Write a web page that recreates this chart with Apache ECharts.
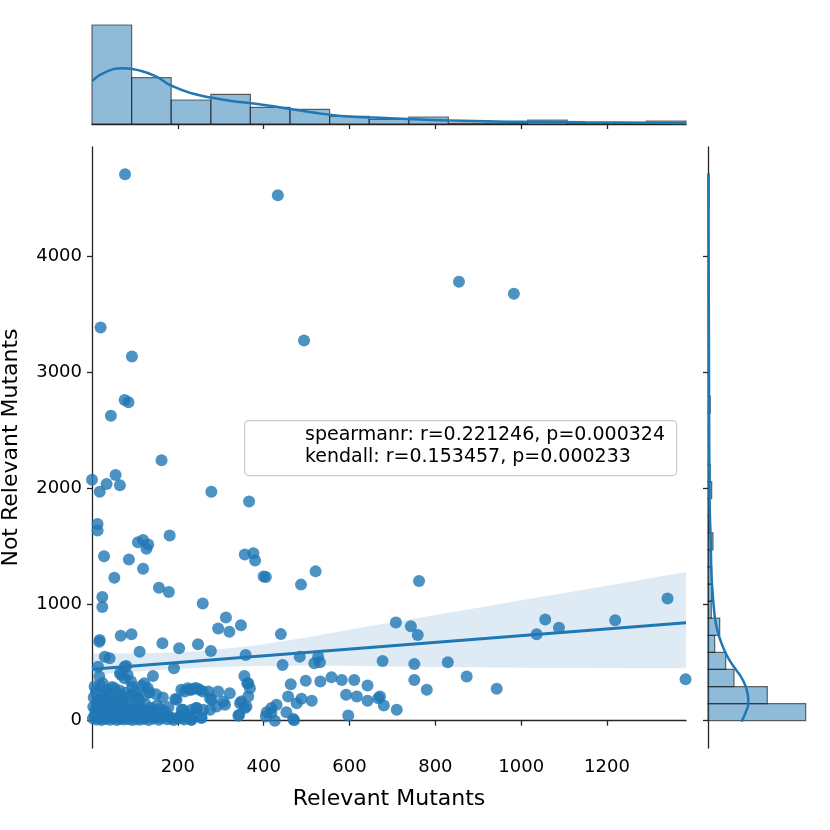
<!DOCTYPE html>
<html>
<head>
<meta charset="utf-8">
<script src="https://cdn.jsdelivr.net/npm/echarts@6/dist/echarts.min.js"></script>
<style>
  html, body { margin: 0; padding: 0; background: #fff; }
  #chart { width: 830px; height: 830px; }
</style>
</head>
<body>
<div id="chart"></div>
<script>
// scatter points [relevant, notRelevant]
const points = [
  [77,4702],[433,4522],[855,3777],[983,3674],[494,3272],[20,3383],[93,3135],[44,2624],[76,2760],[85,2740],
  [162,2241],[0,2073],[18,1970],[34,2036],[55,2115],[65,2027],[278,1970],[366,1887],[13,1693],[13,1636],
  [181,1593],[107,1536],[119,1556],[131,1516],[127,1479],[28,1416],[86,1388],[119,1308],[52,1231],[356,1430],
  [376,1442],[380,1379],[400,1240],[405,1236],[487,1171],[521,1285],[24,1065],[24,979],[156,1145],[179,1108],
  [258,1008],[312,888],[294,794],[320,765],[347,822],[18,694],[67,731],[92,743],[164,666],[111,594],
  [203,623],[247,657],[277,600],[440,745],[358,565],[484,551],[527,551],[518,494],[531,503],[677,514],
  [30,551],[41,537],[76,465],[65,408],[83,394],[191,451],[444,480],[355,385],[362,323],[142,385],
  [463,314],[498,343],[532,337],[558,374],[582,351],[611,351],[642,302],[592,223],[617,208],[642,171],
  [667,194],[457,208],[488,188],[512,171],[597,45],[405,37],[426,0],[471,3],[418,66],[343,51],
  [216,251],[232,266],[251,266],[271,251],[294,251],[321,237],[197,180],[209,94],[232,94],[255,23],
  [279,180],[310,137],[348,165],[364,208],[356,109],[185,23],[209,23],[232,9],
  [762,1202],[708,845],[743,813],[759,737],[751,488],[751,351],[780,266],[829,503],[873,380],[943,274],
  [1036,743],[1056,871],[1088,799],[1219,865],[1341,1051],[1383,357],[671,208],[680,131],[710,94],
  [17,679],[14,465],[80,471],[68,394],[76,365],[91,337],[122,323],[130,280],[17,380],[6,295],
  [25,323],[37,266],[52,280],[95,228],[107,200],[134,243],[149,228],[165,200],[68,185],[60,128],
  [37,143],[21,171],[208,266],[223,280],[239,280],[194,186],[212,94],[223,51],[243,109],[231,9],
  [228,266],[244,280],[258,251],[275,194],[306,165],[290,122],[275,94],[259,94],[244,109],[232,29],
  [255,29],[341,43],[360,122],[345,151],[407,72],[418,109],[430,137],[453,72],[469,14],[477,151],
  [364,323],[368,280],
  [2,20],[6,45],[10,10],[14,60],[18,25],[22,5],[26,40],[30,15],[34,70],[38,30],
  [42,8],[46,50],[50,20],[54,35],[58,5],[62,60],[66,18],[70,42],[74,10],[78,28],
  [82,55],[86,12],[90,36],[95,5],[100,48],[105,22],[110,8],[115,40],[120,15],[126,30],
  [132,5],[138,45],[144,18],[150,35],[156,8],[162,25],[168,50],[175,12],[182,30],[190,5],
  [198,20],[205,40],[215,10],
  [3,120],[8,90],[12,150],[17,105],[25,80],[29,135],[33,95],[40,115],[45,75],[48,160],
  [55,100],[60,128],[65,85],[70,145],[75,110],[80,70],[85,130],[92,95],[98,150],[104,80],
  [112,120],[118,90],[125,140],[130,75],[137,110],[145,90],[152,130],[160,100],[170,80],[178,115],
  [4,200],[9,250],[14,175],[19,300],[24,220],[28,180],[35,240],[42,205],[47,290],[53,170],
  [58,230],[64,260],[72,195],[78,240],[86,210],[94,290],[102,250],[110,175],[116,300],[124,225]
];

// regression fit and its confidence band
const fitLine = [[0, 442], [1384, 842]];
const bandX     = [0,   125, 250, 375, 500, 625, 750, 875, 1000, 1125, 1250, 1384];
const bandUpper = [578, 580, 598, 645, 715, 800, 878, 957, 1036, 1115, 1194, 1279];
const bandLower = [393, 430, 455, 470, 475, 470, 465, 460, 456,  453,  452,  451];

// top marginal histogram (x)
const topEdges  = [0, 92.3, 184.5, 276.8, 369, 461.3, 553.6, 645.8, 738.1, 830.3, 922.6, 1014.9, 1107.1, 1199.4, 1291.6, 1384];
const topCounts = [99, 46.3, 24, 29.7, 16.7, 14.7, 7.7, 4.5, 7, 1, 1, 4, 1, 1, 3];
const topKde = [[0,43],[30,51.7],[73,55.7],[115,53],[150,47.3],[185,38.3],[232,30.7],[279,26.3],[325,23],
  [372,20.7],[418,18],[465,14.7],[512,11.7],[558,9],[605,7.3],[652,6.5],[694,5.8],[832,3.5],[993,2.3],
  [1149,1.7],[1384,1.0]];

// right marginal histogram (y), 32 bins of 147
const rightBinWidth = 147;
const rightCounts = [97.7, 59.3, 26, 17.7, 6.7, 11.7, 3.3, 3.7, 3.7, 3.3, 5, 1, 1, 3.7, 2.2, 1.1,
  0, 1.1, 2.2, 0, 0, 1.1, 1.1, 1.1, 1.1, 1.1, 0, 0, 0, 0, 1.1, 1.1];
const rightKde = [[33.4,-9],[37.7,72],[40.4,157],[39.4,243],[34.4,357],[27.7,443],[21,528],[16,614],
  [11,728],[7.7,843],[6,957],[4.4,1128],[3.4,1271],[2.7,1556],[1.7,1842],[1.4,2128],[1.2,2413],
  [1,3000],[0.8,3600],[0.6,4200],[0.5,4705]];

const xTicks = [200, 400, 600, 800, 1000, 1200];
const yTicks = [0, 1000, 2000, 3000, 4000];
const statLines = ['spearmanr: r=0.221246, p=0.000324', 'kendall: r=0.153457, p=0.000233'];

const BLUE = '#1f77b4';
const FONT = '"DejaVu Sans", sans-serif';
const INK = '#262626';
const histFill = 'rgba(31,119,180,0.5)';
const histEdge = 'rgba(30,30,30,0.65)';

const topData = topCounts.map((c, i) => [topEdges[i], topEdges[i + 1], c]);
const rightData = rightCounts.map((c, i) => [i * rightBinWidth, (i + 1) * rightBinWidth, c]);

const axisLine = { show: true, lineStyle: { color: INK, width: 1.3 } };
const tickStyle = { show: true, length: 5, lineStyle: { color: INK, width: 1.3 } };
const plain = v => String(v);

const chart = echarts.init(document.getElementById('chart'));
chart.setOption({
  animation: false,
  backgroundColor: '#fff',
  grid: [
    { left: 92, top: 147, width: 594, height: 601, containLabel: false, outerBoundsMode: 'none' },
    { left: 92, top: 19, width: 594, height: 105, containLabel: false, outerBoundsMode: 'none' },
    { left: 708, top: 147, width: 102, height: 601, containLabel: false, outerBoundsMode: 'none' }
  ],
  xAxis: [
    {
      gridIndex: 0, type: 'value', min: 0, max: 1384,
      axisLine, splitLine: { show: false },
      axisTick: { ...tickStyle, customValues: xTicks },
      axisLabel: { customValues: xTicks, formatter: plain, fontSize: 18, fontFamily: FONT, color: '#000', margin: 10 },
      name: 'Relevant Mutants', nameLocation: 'middle', nameGap: 40,
      nameTextStyle: { fontSize: 22, fontFamily: FONT, color: '#000' }
    },
    {
      gridIndex: 1, type: 'value', min: 0, max: 1384,
      axisLine, splitLine: { show: false },
      axisTick: { ...tickStyle, customValues: xTicks },
      axisLabel: { show: false }
    },
    {
      gridIndex: 2, type: 'value', min: 0, max: 102, show: false
    }
  ],
  yAxis: [
    {
      gridIndex: 0, type: 'value', min: -235, max: 4937,
      axisLine, splitLine: { show: false },
      axisTick: { ...tickStyle, customValues: yTicks },
      axisLabel: { customValues: yTicks, formatter: plain, fontSize: 18, fontFamily: FONT, color: '#000', margin: 10 },
      name: 'Not Relevant Mutants', nameLocation: 'middle', nameGap: 70,
      nameTextStyle: { fontSize: 22, fontFamily: FONT, color: '#000' }
    },
    {
      gridIndex: 1, type: 'value', min: 0, max: 105, show: false
    },
    {
      gridIndex: 2, type: 'value', min: -235, max: 4937,
      axisLine, splitLine: { show: false },
      axisTick: { ...tickStyle, customValues: yTicks },
      axisLabel: { show: false }
    }
  ],
  graphic: [
    {
      type: 'rect', left: 244, top: 420, z: 100,
      shape: { width: 432, height: 55, r: 4 },
      style: { fill: 'rgba(255,255,255,0.8)', stroke: '#cccccc', lineWidth: 1.2 }
    },
    {
      type: 'text', left: 305, top: 426, z: 101,
      style: { text: statLines[0], font: '19px ' + FONT, fill: '#000' }
    },
    {
      type: 'text', left: 305, top: 448, z: 101,
      style: { text: statLines[1], font: '19px ' + FONT, fill: '#000' }
    }
  ],
  series: [
    {
      type: 'scatter', xAxisIndex: 0, yAxisIndex: 0,
      data: points, symbolSize: 12, z: 2,
      itemStyle: { color: BLUE, opacity: 0.8 }
    },
    {
      type: 'custom', xAxisIndex: 0, yAxisIndex: 0, z: 3, clip: true,
      data: [[bandX[0], bandLower[0]]],
      renderItem: (params, api) => {
        const up = bandX.map((x, i) => api.coord([x, bandUpper[i]]));
        const lo = bandX.map((x, i) => api.coord([x, bandLower[i]])).reverse();
        return {
          type: 'polygon',
          shape: { points: up.concat(lo) },
          style: { fill: 'rgba(31,119,180,0.15)' }
        };
      }
    },
    {
      type: 'line', xAxisIndex: 0, yAxisIndex: 0, z: 4,
      data: fitLine, symbol: 'none',
      lineStyle: { color: BLUE, width: 3 }
    },
    {
      type: 'custom', xAxisIndex: 1, yAxisIndex: 1, z: 2,
      data: topData, encode: { x: [0, 1], y: 2 },
      renderItem: (params, api) => {
        const p0 = api.coord([api.value(0), 0]);
        const p1 = api.coord([api.value(1), api.value(2)]);
        return {
          type: 'rect',
          shape: { x: p0[0], y: p1[1], width: p1[0] - p0[0], height: p0[1] - p1[1] },
          style: { fill: histFill, stroke: histEdge, lineWidth: 1.2 }
        };
      }
    },
    {
      type: 'line', xAxisIndex: 1, yAxisIndex: 1, z: 3,
      data: topKde, symbol: 'none', smooth: true,
      lineStyle: { color: BLUE, width: 2.5 }
    },
    {
      type: 'custom', xAxisIndex: 2, yAxisIndex: 2, z: 2,
      data: rightData, encode: { y: [0, 1], x: 2 },
      renderItem: (params, api) => {
        const p0 = api.coord([0, api.value(0)]);
        const p1 = api.coord([api.value(2), api.value(1)]);
        return {
          type: 'rect',
          shape: { x: p0[0], y: p1[1], width: p1[0] - p0[0], height: p0[1] - p1[1] },
          style: { fill: histFill, stroke: histEdge, lineWidth: 1.2 }
        };
      }
    },
    {
      type: 'line', xAxisIndex: 2, yAxisIndex: 2, z: 3,
      data: rightKde, symbol: 'none', smooth: true,
      lineStyle: { color: BLUE, width: 2.5 }
    }
  ]
});
</script>
</body>
</html>
